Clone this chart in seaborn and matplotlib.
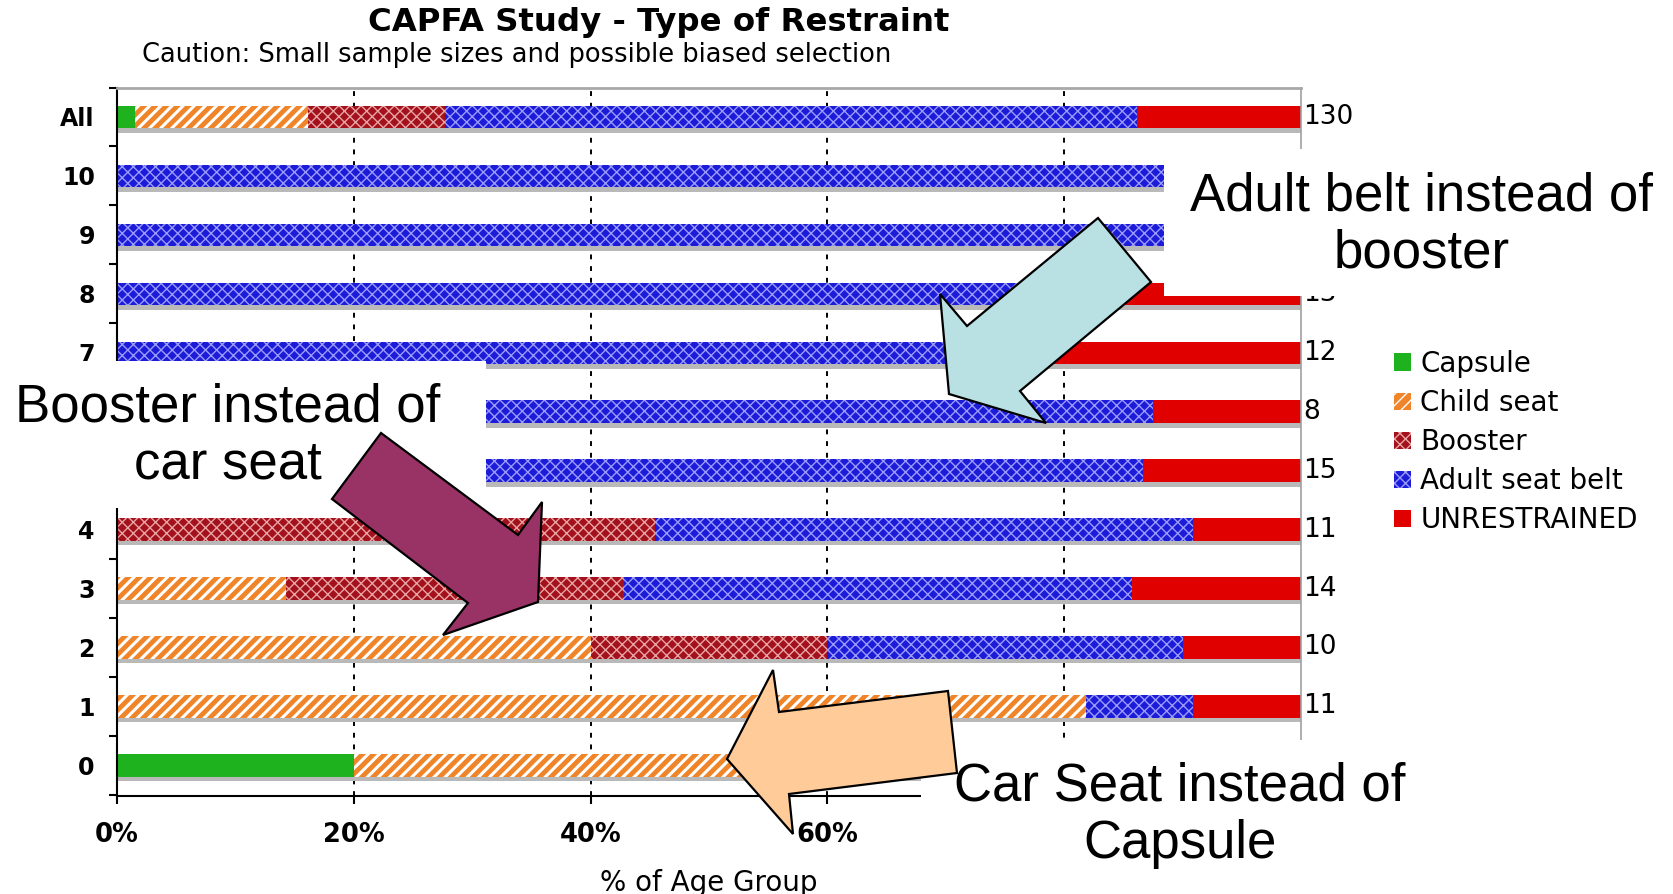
import numpy as np
import pandas as pd
import matplotlib
matplotlib.use('Agg')
import matplotlib.pyplot as plt
import seaborn as sns
from matplotlib.patches import Patch, Rectangle, Polygon

# counts per age group and restraint type
groups = ['All', '10', '9', '8', '7', '6', '5', '4', '3', '2', '1', '0']
capsule = [2, 0, 0, 0, 0, 0, 0, 0, 0, 0, 0, 1]
child_seat = [19, 0, 0, 0, 0, 0, 0, 0, 2, 4, 9, 4]
booster = [15, 0, 0, 0, 0, 1, 3, 5, 4, 2, 0, 0]
adult_belt = [76, 9, 11, 11, 9, 6, 10, 5, 6, 3, 1, 0]
unrestrained = [18, 0, 0, 2, 3, 1, 2, 1, 2, 1, 1, 0]
types = ['Capsule', 'Child seat', 'Booster', 'Adult seat belt', 'UNRESTRAINED']
x_ticks = [0, 20, 40, 60, 80, 100]

# face colour, hatch colour, hatch
styles = {
    'Capsule': ('#1fb21f', '#1fb21f', None),
    'Child seat': ('#f08428', '#ffffff', '///'),
    'Booster': ('#a3121c', '#e8a4a4', 'xxx'),
    'Adult seat belt': ('#1c1cd8', '#9a9aff', 'xxx'),
    'UNRESTRAINED': ('#e00000', '#e00000', None),
}

sns.set_style('white')
plt.rcParams['font.family'] = ['DejaVu Sans']
plt.rcParams['hatch.linewidth'] = 1.0
for k in ['text.color', 'axes.labelcolor', 'xtick.color', 'ytick.color']:
    plt.rcParams[k] = 'black'

W, H = 1673, 894
fig = plt.figure(figsize=(W / 100, H / 100), dpi=100)
ax = fig.add_axes([117 / W, 1 - 796 / H, (1301 - 117) / W, (796 - 87.5) / H])

df = pd.DataFrame({'group': groups, 'Capsule': capsule, 'Child seat': child_seat,
                   'Booster': booster, 'Adult seat belt': adult_belt,
                   'UNRESTRAINED': unrestrained})
df['n'] = df[types].sum(axis=1)
pct = df[types].div(df['n'], axis=0) * 100
cum = pct.cumsum(axis=1)

# stacked bars: draw the cumulative totals from the right-most segment down
for t in reversed(types):
    face, hcol, hatch = styles[t]
    sns.barplot(x=cum[t].values, y=groups, orient='h', color=face, saturation=1,
                width=0.38, errorbar=None, ax=ax, linewidth=0, zorder=2)
    for p in ax.containers[-1]:
        p.set_edgecolor(hcol)
        p.set_linewidth(0)
        if hatch:
            p.set_hatch(hatch)
            if hasattr(p, 'set_hatch_linewidth'):
                p.set_hatch_linewidth(2.2 if t == 'Child seat' else 1.0)

# drop shadow under every bar
ax.barh(np.arange(len(groups)) + 0.08, cum['UNRESTRAINED'].values, height=0.38,
        color='#b9b9b9', zorder=1.5, lw=0)

ax.set_xlim(0, 100)
ax.set_ylim(11.52, -0.45)
for v in x_ticks[1:-1]:
    ax.axvline(v, color='black', lw=1.4, linestyle=(0, (2.5, 3.5)), zorder=1)

ax.set_xticks(x_ticks)
ax.set_xticklabels([f'{v}%' for v in x_ticks])
ax.set_yticks(range(len(groups)))
ax.set_yticklabels(groups)
ax.set_yticks(np.arange(-0.5, len(groups), 1), minor=True)
ax.tick_params(axis='y', which='major', length=0, pad=16, labelsize=17)
ax.tick_params(axis='y', which='minor', length=6, width=1.5, color='black', direction='out', left=True)
ax.tick_params(axis='x', which='major', length=6, width=1.5, color='black', direction='out',
               pad=13, labelsize=18.5, bottom=True)
for lbl in ax.get_yticklabels() + ax.get_xticklabels():
    lbl.set_fontweight('bold')

ax.set_ylabel('')
ax.set_xlabel('% of Age Group', fontsize=20, labelpad=15)

for side in ['left', 'bottom']:
    ax.spines[side].set_color('black')
    ax.spines[side].set_linewidth(1.5)
ax.spines['right'].set_color('#a0a0a0')
ax.spines['right'].set_linewidth(1.2)
ax.spines['top'].set_color('#a8a8a8')
ax.spines['top'].set_linewidth(2)

for i, n in enumerate(df['n']):
    ax.text(100.2, i, str(n), va='center', ha='left', fontsize=19, clip_on=False)

fig.text(659 / W, 1 - 22 / H, 'CAPFA Study - Type of Restraint', ha='center', va='center',
         fontsize=23.3, fontweight='bold')
fig.text(142 / W, 1 - 55 / H, 'Caution: Small sample sizes and possible biased selection',
         ha='left', va='center', fontsize=18.5)

handles = [Patch(facecolor=styles[t][0], edgecolor=styles[t][1], hatch=styles[t][2], lw=0, label=t)
           for t in types]
fig.legend(handles=handles, loc='upper left', bbox_to_anchor=(1394 / W, 1 - 350 / H),
           frameon=False, fontsize=20, handlelength=0.6, handleheight=0.6,
           handletextpad=0.35, labelspacing=0.4, borderpad=0, borderaxespad=0)


# overlay call-outs (white boxes, arrows, text), in pixel coords of the picture
def fpt(x, y):
    return (x / W, 1 - y / H)


def white_box(x0, y0, x1, y1):
    fig.add_artist(Rectangle(fpt(x0, y1), (x1 - x0) / W, (y1 - y0) / H,
                             transform=fig.transFigure, facecolor='white', edgecolor='none',
                             zorder=5))


def arrow(pts, color):
    fig.add_artist(Polygon([fpt(x, y) for x, y in pts], closed=True, transform=fig.transFigure,
                           facecolor=color, edgecolor='black', lw=1.6, zorder=6))


white_box(1164, 149, 1673, 296)
white_box(0, 361, 486, 508)
white_box(921, 740, 1430, 894)

arrow([(1098, 218), (1151, 282), (1020, 391), (1046, 423), (949, 394), (940, 294), (967, 326)],
      '#b9e0e3')
arrow([(381, 433), (518, 535), (542, 502), (538, 602), (443, 635), (468, 603), (332, 499)],
      '#993366')
arrow([(727, 759), (773, 670), (779, 712), (948, 691), (957, 773), (789, 794), (793, 834)],
      '#ffcc99')

callout = dict(ha='center', va='center', multialignment='center', fontsize=38, color='black',
               family=['Liberation Sans', 'DejaVu Sans'], linespacing=1.2, zorder=7)
fig.text(*fpt(1422, 225), 'Adult belt instead of\nbooster', **callout)
fig.text(*fpt(228, 436), 'Booster instead of\ncar seat', **callout)
fig.text(*fpt(1180, 815), 'Car Seat instead of\nCapsule', **callout)

fig.savefig('out.png', dpi=100)
